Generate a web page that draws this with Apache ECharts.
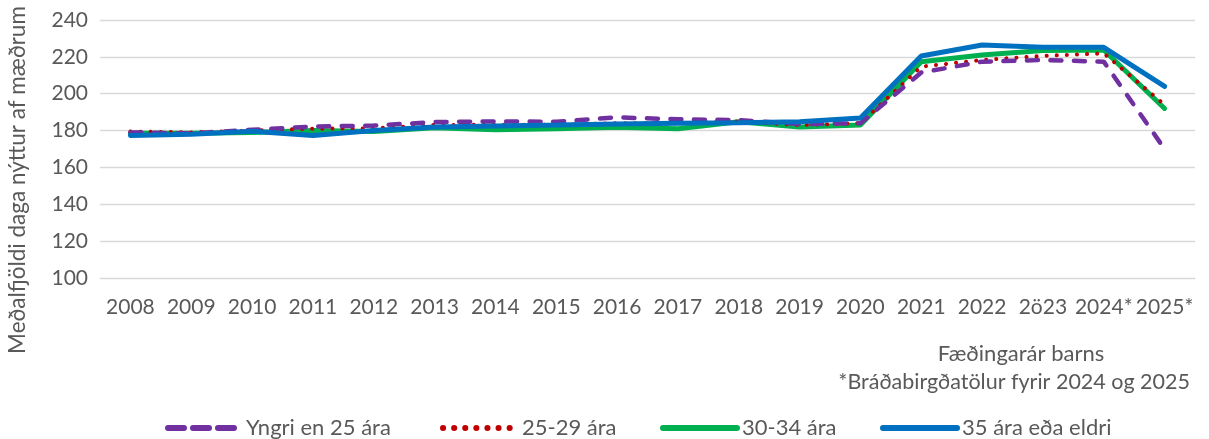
<!DOCTYPE html>
<html>
<head>
<meta charset="utf-8">
<script src="https://cdn.jsdelivr.net/npm/echarts@6/dist/echarts.min.js"></script>
<style>
  html, body { margin: 0; padding: 0; background: #fff; }
  #chart { width: 1209px; height: 439px; }
</style>
</head>
<body>
<div id="chart"></div>
<script>
// ár
var years = ['2008', '2009', '2010', '2011', '2012', '2013', '2014', '2015', '2016',
  '2017', '2018', '2019', '2020', '2021', '2022', '2ö23', '2024*', '2025*']

// meðalfjöldi daga eftir aldri móður
var yngri25 = [179, 178.5, 180.4, 182.2, 182.7, 184.6, 185, 184.8, 187.2,
  186.1, 185.7, 183.5, 184, 211.5, 217.4, 218.3, 217.4, 170]
var a25_29 = [179.5, 179, 180, 181, 181.2, 183, 183.2, 183.2, 184,
  184, 185, 183, 184, 214.7, 218.3, 220.5, 221.9, 194]
var a30_34 = [178.5, 178.5, 179, 180, 179.5, 181.5, 180.5, 181, 181.8,
  181, 184.8, 182, 183, 217.4, 221, 223.4, 223.7, 192]
var a35 = [177.3, 178, 179.6, 177.3, 180, 182, 182.5, 183, 183.6,
  184, 184.3, 184.8, 186.8, 220.5, 226.4, 225.2, 225.2, 204]

var yTicks = [100, 120, 140, 160, 180, 200, 220, 240]

var txtColor = '#595959'
var fnt = 'Lato, "Noto Sans", sans-serif'

var myChart = echarts.init(document.getElementById('chart'))

/* ein skýring fyrir hverja röð, svo bilin verði eins og í Excel */
function mkLegend(name, left, w, dash, padL) {
  return {
    data: [name],
    left: left,
    top: 412,
    itemWidth: w,
    itemHeight: 14,
    itemGap: 0,
    itemStyle: { opacity: 0 },
    lineStyle: { width: 6, type: dash, cap: 'round' },
    textStyle: { fontFamily: fnt, fontSize: 22, color: txtColor, padding: [0, 0, 0, padL] }
  }
}

var option = {
  backgroundColor: '#fff',
  animation: false,
  grid: { left: 100, right: 14, top: 20, bottom: 161 },
  legend: [
    mkLegend('Yngri en 25 ára', 160, 68, [16, 9], 5),
    mkLegend('25-29 ára', 435, 68, [0.1, 11], 6),
    mkLegend('30-34 ára', 655, 74, 'solid', 0),
    mkLegend('35 ára eða eldri', 875, 74, 'solid', 0)
  ],
  xAxis: {
    type: 'category',
    data: years,
    boundaryGap: true,
    axisLine: { lineStyle: { color: '#d9d9d9' } },
    axisTick: { show: false },
    axisLabel: {
      interval: 0,
      margin: 19,
      fontFamily: fnt,
      fontSize: 21,
      color: txtColor
    }
  },
  yAxis: {
    type: 'value',
    min: yTicks[0],
    max: yTicks[yTicks.length - 1],
    interval: 20,
    axisLine: { show: false },
    axisTick: { show: false },
    splitLine: { lineStyle: { color: '#d9d9d9', width: 1.3 } },
    axisLabel: {
      margin: 12,
      fontFamily: fnt,
      fontSize: 21,
      color: txtColor
    }
  },
  graphic: [
    {
      type: 'text',
      x: 18,
      y: 180,
      rotation: Math.PI / 2,
      style: {
        text: 'Meðalfjöldi daga nýttur af mæðrum',
        font: '22.5px ' + fnt,
        fill: txtColor,
        align: 'center',
        verticalAlign: 'middle'
      }
    },
    {
      type: 'text',
      x: 1021,
      y: 354,
      style: {
        text: 'Fæðingarár barns',
        font: '22px ' + fnt,
        fill: txtColor,
        align: 'center',
        verticalAlign: 'middle'
      }
    },
    {
      type: 'text',
      x: 1190,
      y: 382,
      style: {
        text: '*Bráðabirgðatölur fyrir 2024 og 2025',
        font: '21.5px ' + fnt,
        fill: txtColor,
        align: 'right',
        verticalAlign: 'middle'
      }
    }
  ],
  series: [
    {
      name: 'Yngri en 25 ára',
      type: 'line',
      data: yngri25,
      symbol: 'none',
      z: 4,
      lineStyle: { color: '#7030A0', width: 4.5, type: [11, 12.5], cap: 'round' },
      itemStyle: { color: '#7030A0' }
    },
    {
      name: '25-29 ára',
      type: 'line',
      data: a25_29,
      symbol: 'none',
      z: 3,
      lineStyle: { color: '#C00000', width: 4, type: [0.1, 10], cap: 'round' },
      itemStyle: { color: '#C00000' }
    },
    {
      name: '30-34 ára',
      type: 'line',
      data: a30_34,
      symbol: 'none',
      z: 2,
      lineStyle: { color: '#00B050', width: 5, cap: 'round' },
      itemStyle: { color: '#00B050' }
    },
    {
      name: '35 ára eða eldri',
      type: 'line',
      data: a35,
      symbol: 'none',
      z: 5,
      lineStyle: { color: '#0070C0', width: 5, cap: 'round' },
      itemStyle: { color: '#0070C0' }
    }
  ]
}

myChart.setOption(option)
</script>
</body>
</html>
